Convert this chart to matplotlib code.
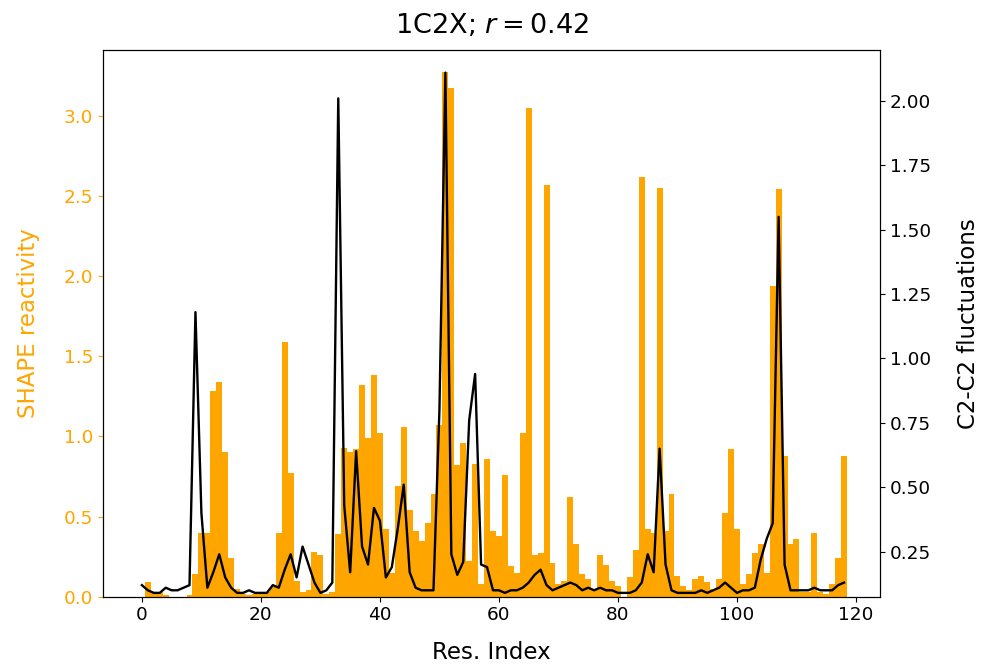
import numpy as np
import matplotlib
matplotlib.use("Agg")
import matplotlib.pyplot as plt

# SHAPE reactivity per residue (bars, left axis)
shape = [0.00, 0.09, 0.03, 0.03, 0.01, 0.00, 0.00, 0.00, 0.01, 0.14,
         0.40, 0.40, 1.28, 1.34, 0.90, 0.24, 0.05, 0.02, 0.01, 0.02,
         0.02, 0.03, 0.06, 0.40, 1.59, 0.77, 0.10, 0.03, 0.04, 0.28,
         0.26, 0.02, 0.03, 0.39, 0.93, 0.90, 0.92, 1.32, 0.99, 1.38,
         1.02, 0.42, 0.15, 0.69, 1.06, 0.54, 0.41, 0.35, 0.46, 0.64,
         1.07, 3.27, 3.17, 0.82, 0.96, 0.22, 0.83, 0.08, 0.86, 0.41,
         0.38, 0.76, 0.19, 0.15, 1.02, 3.05, 0.26, 0.27, 2.57, 0.21,
         0.08, 0.10, 0.62, 0.33, 0.14, 0.11, 0.04, 0.26, 0.20, 0.10,
         0.07, 0.00, 0.12, 0.29, 2.62, 0.42, 0.40, 2.55, 0.41, 0.64,
         0.13, 0.07, 0.04, 0.11, 0.13, 0.09, 0.05, 0.11, 0.52, 0.92,
         0.42, 0.08, 0.14, 0.27, 0.33, 0.15, 1.94, 2.54, 0.88, 0.33,
         0.36, 0.03, 0.03, 0.40, 0.03, 0.02, 0.08, 0.24, 0.88]

# C2-C2 fluctuations per residue (line, right axis)
fluct = [0.12, 0.10, 0.09, 0.09, 0.11, 0.10, 0.10, 0.11, 0.12, 1.18,
         0.40, 0.11, 0.17, 0.24, 0.15, 0.11, 0.09, 0.09, 0.10, 0.09,
         0.09, 0.09, 0.12, 0.11, 0.18, 0.24, 0.15, 0.27, 0.20, 0.13,
         0.09, 0.10, 0.13, 2.01, 0.43, 0.17, 0.64, 0.27, 0.20, 0.42,
         0.37, 0.15, 0.19, 0.34, 0.51, 0.17, 0.11, 0.10, 0.10, 0.10,
         0.80, 2.11, 0.24, 0.16, 0.21, 0.76, 0.94, 0.20, 0.19, 0.10,
         0.10, 0.09, 0.10, 0.10, 0.11, 0.13, 0.16, 0.18, 0.12, 0.10,
         0.11, 0.12, 0.13, 0.12, 0.10, 0.11, 0.10, 0.11, 0.10, 0.10,
         0.09, 0.09, 0.09, 0.10, 0.13, 0.24, 0.17, 0.65, 0.20, 0.10,
         0.09, 0.09, 0.09, 0.09, 0.10, 0.09, 0.10, 0.11, 0.13, 0.11,
         0.09, 0.10, 0.10, 0.11, 0.22, 0.30, 0.36, 1.55, 0.20, 0.10,
         0.10, 0.10, 0.10, 0.11, 0.10, 0.10, 0.10, 0.12, 0.13]

name = "1C2X"
r = 0.42

res = np.arange(len(shape))

plt.rcParams["xtick.labelsize"] = 13.3
plt.rcParams["ytick.labelsize"] = 13.3
plt.rcParams["axes.labelsize"] = 16.5
plt.rcParams["axes.titlesize"] = 19.5

fig, ax1 = plt.subplots(figsize=(9.83, 6.66), dpi=100)
fig.subplots_adjust(left=0.105, right=0.895, bottom=0.104, top=0.925)

ax1.bar(res, shape, width=1, color="orange")
ax1.set_xlim(-6.5, 124.0)
ax1.set_ylim(0, 3.41)
ax1.set_xlabel("Res. Index", labelpad=12)
ax1.set_ylabel("SHAPE reactivity", color="orange", labelpad=17)
ax1.tick_params(axis="y", colors="orange")

ax2 = ax1.twinx()
ax2.plot(res, fluct, color="black", lw=1.7)
ax2.set_ylim(0.075, 2.198)
ax2.set_ylabel("C2-C2 fluctuations", labelpad=19)

ax1.set_title(f"{name}; $r = {r}$", pad=12)

fig.savefig("out.png")
